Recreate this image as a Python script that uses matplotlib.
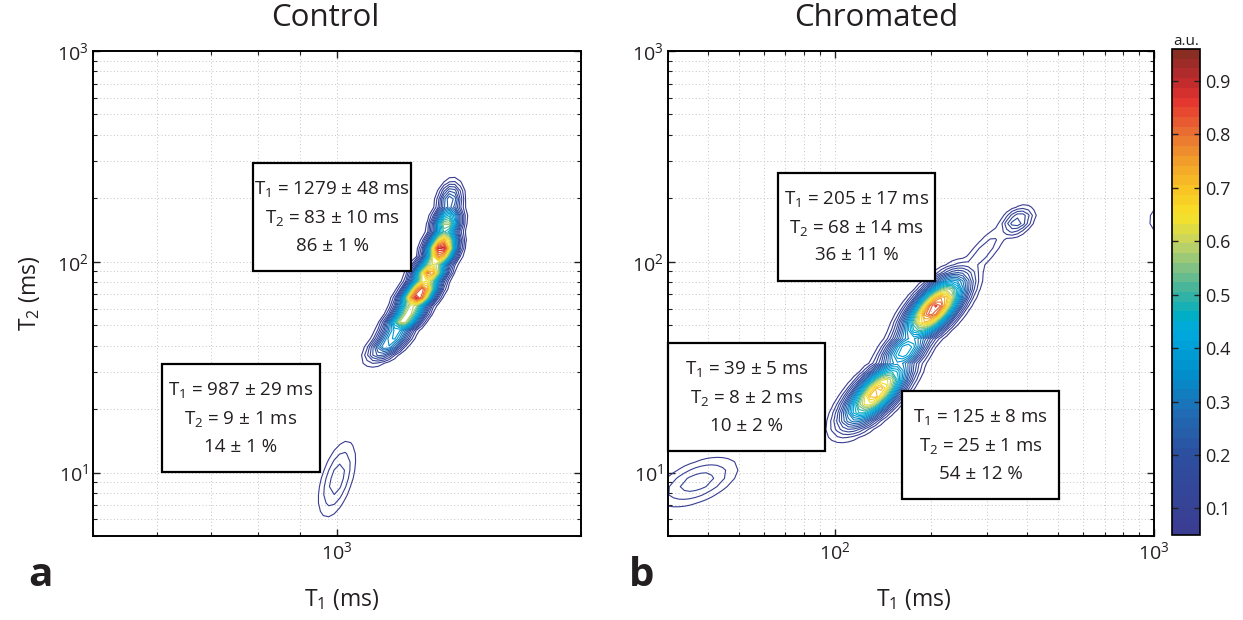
"""
T1-T2 correlation maps (control vs chromated), contour plots on log axes.
"""
import matplotlib
matplotlib.use("Agg")
import matplotlib.pyplot as plt
import numpy as np
from matplotlib.colors import LinearSegmentedColormap, Normalize
from matplotlib.patches import Rectangle
from matplotlib.ticker import LogLocator, NullFormatter, FixedLocator, FormatStrFormatter

plt.rcParams["font.family"] = ["Open Sans", "DejaVu Sans"]
plt.rcParams["mathtext.fontset"] = "custom"
plt.rcParams["mathtext.rm"] = "Open Sans"
plt.rcParams["mathtext.it"] = "Open Sans"

# ---- peak components: centre T1, T2 (ms), amplitude,
# ---- orientation (deg, in decade space), widths along / across (decades)
ctrl_t1 = [1165, 1215, 1262, 1300, 1345, 1365, 1378, 1000]
ctrl_t2 = [42, 54, 70, 88, 115, 150, 192, 9.3]
ctrl_amp = [0.4, 0.65, 0.93, 0.8, 0.94, 0.6, 0.3, 0.13]
ctrl_ang = [78, 79, 81, 83, 86, 87, 88, 86]
ctrl_wmaj = [0.06, 0.06, 0.06, 0.06, 0.06, 0.06, 0.06, 0.13]
ctrl_wmin = [0.013, 0.013, 0.013, 0.013, 0.012, 0.011, 0.01, 0.014]

chrom_t1 = [37, 135, 166, 205, 290, 372, 1080]
chrom_t2 = [9.0, 24, 38, 60, 110, 155, 158]
chrom_amp = [0.13, 0.75, 0.45, 0.88, 0.1, 0.2, 0.1]
chrom_ang = [40, 60, 64, 62, 61, 61, 88]
chrom_wmaj = [0.11, 0.115, 0.09, 0.11, 0.13, 0.05, 0.06]
chrom_wmin = [0.06, 0.042, 0.04, 0.042, 0.03, 0.03, 0.04]

# ---- fitted values shown in the boxes
ctrl_box_t1 = ["1279 ± 48", "987 ± 29"]
ctrl_box_t2 = ["83 ± 10", "9 ± 1"]
ctrl_box_frac = ["86 ± 1", "14 ± 1"]
chrom_box_t1 = ["205 ± 17", "39 ± 5", "125 ± 8"]
chrom_box_t2 = ["68 ± 14", "8 ± 2", "25 ± 1"]
chrom_box_frac = ["36 ± 11", "10 ± 2", "54 ± 12"]

# box layout in axes fractions: lower-left corner
ctrl_box_pos = [(0.328, 0.546), (0.141, 0.132)]
chrom_box_pos = [(0.226, 0.526), (0.0, 0.175), (0.481, 0.076)]
box_w, box_h = 0.324, 0.223

cb_pos = [0.0, 0.16, 0.25, 0.33, 0.42, 0.45, 0.5, 0.55, 0.6, 0.66, 0.72, 0.78, 0.84, 0.9, 0.95, 1.0]
cb_colors = ["#3a3d92", "#2d4f9f", "#1f6db4", "#0090cc", "#00abde", "#00aec4",
             "#3cb39e", "#80c184", "#c2d364", "#f7e227", "#f8c224", "#f09a2b",
             "#e96a33", "#e4352f", "#b92a2d", "#8a2e24"]

VMIN, VMAX = 0.05, 0.96
levels = np.arange(0.05, 0.951, 0.03)
cmap = LinearSegmentedColormap.from_list("t1t2", list(zip(cb_pos, cb_colors)), N=50)
norm = Normalize(VMIN, VMAX)
TXT = "#231f20"


def surface(u, v, t1, t2, amp, ang, wmaj, wmin):
    z = np.zeros_like(u)
    for c1, c2, a, th, s1, s2 in zip(t1, t2, amp, ang, wmaj, wmin):
        du = u - np.log10(c1)
        dv = v - np.log10(c2)
        th = np.radians(th)
        p = du * np.cos(th) + dv * np.sin(th)
        q = -du * np.sin(th) + dv * np.cos(th)
        z = np.maximum(z, a * np.exp(-0.5 * ((p / s1) ** 2 + (q / s2) ** 2)))
    return z


def style_axes(ax, xlim, xmajor):
    ax.set_xscale("log")
    ax.set_yscale("log")
    ax.set_xlim(*xlim)
    ax.set_ylim(5, 1000)
    ax.xaxis.set_major_locator(FixedLocator(xmajor))
    ax.yaxis.set_major_locator(FixedLocator([10, 100, 1000]))
    for axis in (ax.xaxis, ax.yaxis):
        axis.set_minor_locator(LogLocator(base=10, subs=np.arange(2, 10), numticks=20))
        axis.set_minor_formatter(NullFormatter())
    ax.tick_params(which="both", direction="in", top=True, right=True, labelsize=14, colors=TXT)
    ax.tick_params(which="major", length=5, width=1)
    ax.tick_params(which="minor", length=3, width=0.8)
    ax.grid(True, which="both", ls=(0, (1, 2.5)), color="#c4c4c4", lw=0.7)
    for s in ax.spines.values():
        s.set_linewidth(1.4)


def add_boxes(ax, pos, t1s, t2s, fracs):
    for (x0, y0), a, b, c in zip(pos, t1s, t2s, fracs):
        ax.add_patch(Rectangle((x0, y0), box_w, box_h, transform=ax.transAxes,
                               fc="white", ec="black", lw=1.6, zorder=5, clip_on=False))
        txt = f"T$_1$ = {a} ms\nT$_2$ = {b} ms\n{c} %"
        ax.text(x0 + box_w / 2, y0 + box_h / 2, txt, transform=ax.transAxes,
                ha="center", va="center", multialignment="center",
                fontsize=13.5, linespacing=1.6, color=TXT, zorder=6)


fig = plt.figure(figsize=(12.43, 6.2), dpi=100)
ax_a = fig.add_axes([0.0748, 0.1355, 0.3926, 0.7823])
ax_b = fig.add_axes([0.5374, 0.1355, 0.391, 0.7823])
cax = fig.add_axes([0.9429, 0.137, 0.0225, 0.784])

panels = [
    (ax_a, (500, 2000), [1000], ctrl_t1, ctrl_t2, ctrl_amp, ctrl_ang, ctrl_wmaj, ctrl_wmin),
    (ax_b, (30, 1000), [100, 1000], chrom_t1, chrom_t2, chrom_amp, chrom_ang, chrom_wmaj, chrom_wmin),
]
for ax, xlim, xmaj, t1, t2, amp, ang, wmaj, wmin in panels:
    u = np.linspace(np.log10(xlim[0]), np.log10(xlim[1]), 90)
    v = np.linspace(np.log10(5), 3, 60)
    U, V = np.meshgrid(u, v)
    Z = surface(U, V, t1, t2, amp, ang, wmaj, wmin)
    ax.contour(10 ** U, 10 ** V, Z, levels=levels, cmap=cmap, norm=norm, linewidths=0.8)
    style_axes(ax, xlim, xmaj)

add_boxes(ax_a, ctrl_box_pos, ctrl_box_t1, ctrl_box_t2, ctrl_box_frac)
add_boxes(ax_b, chrom_box_pos, chrom_box_t1, chrom_box_t2, chrom_box_frac)

sm = plt.cm.ScalarMappable(norm=norm, cmap=cmap)
cb = fig.colorbar(sm, cax=cax, ticks=np.arange(0.1, 0.91, 0.1))
cb.ax.yaxis.set_major_formatter(FormatStrFormatter("%.1f"))
cb.ax.tick_params(direction="in", left=True, right=True, length=4, width=1, labelsize=13, colors=TXT)
cb.outline.set_linewidth(1.2)
cax.set_title("a.u.", fontsize=11, pad=2, color=TXT)

fig.text(325 / 1243, 1 - 18 / 620, "Control", ha="center", va="center", fontsize=22.5, color=TXT)
fig.text(876 / 1243, 1 - 18 / 620, "Chromated", ha="center", va="center", fontsize=22.5, color=TXT)
fig.text(342 / 1243, 1 - 600 / 620, "T$_1$ (ms)", ha="center", va="center", fontsize=16.5, color=TXT)
fig.text(914 / 1243, 1 - 600 / 620, "T$_1$ (ms)", ha="center", va="center", fontsize=16.5, color=TXT)
fig.text(30 / 1243, 1 - 293 / 620, "T$_2$ (ms)", ha="center", va="center", fontsize=16.5,
         rotation=90, color=TXT)
fig.text(40 / 1243, 1 - 576 / 620, "a", ha="center", va="center", fontsize=29, fontweight="bold", color=TXT)
fig.text(642 / 1243, 1 - 576 / 620, "b", ha="center", va="center", fontsize=29, fontweight="bold", color=TXT)

fig.savefig("out.png", dpi=100)
